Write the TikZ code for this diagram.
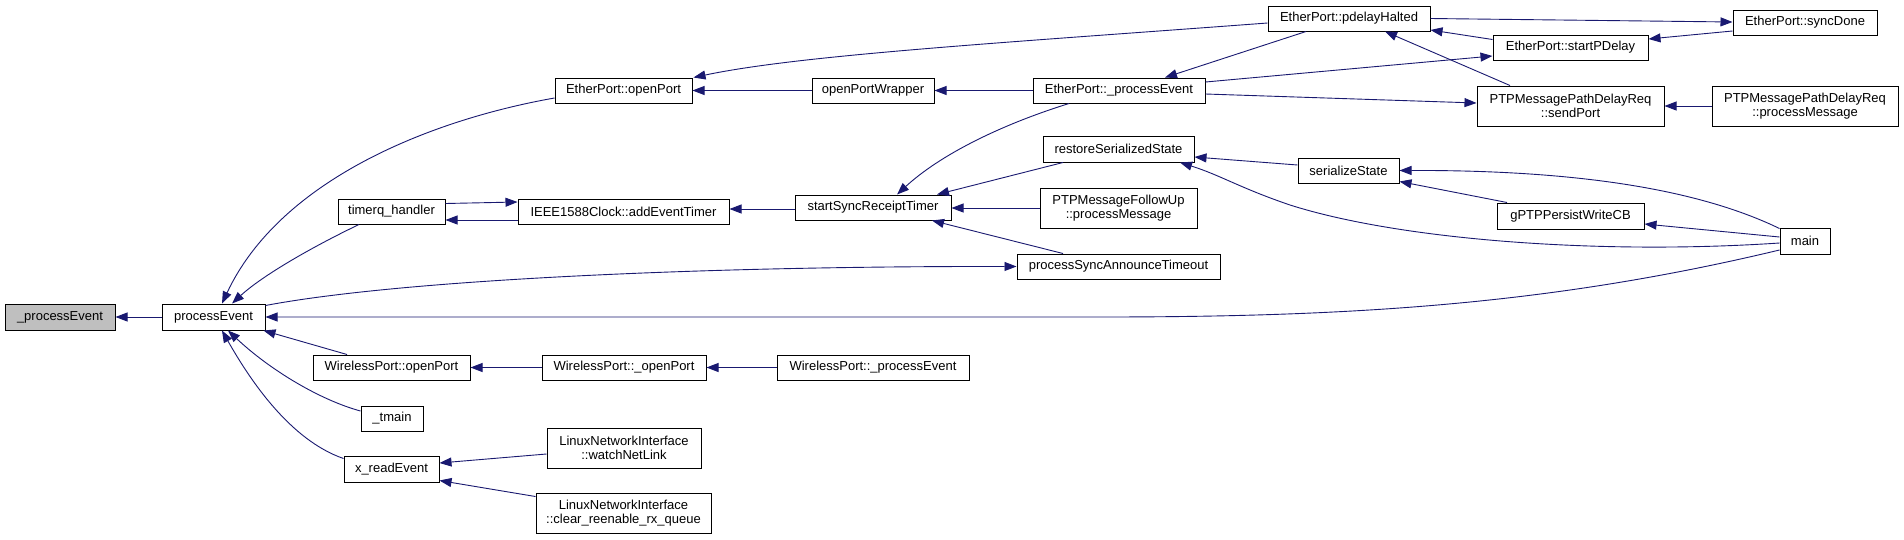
\documentclass[tikz,border=0pt]{standalone}
\usepackage{fontspec}
\setmainfont{Liberation Sans}
\usetikzlibrary{arrows.meta}
\definecolor{edgec}{HTML}{191970}
\definecolor{hl}{HTML}{BFBFBF}
\begin{document}
\begin{tikzpicture}[x=1pt,y=-1pt,
  fn/.style={draw=black,line width=1pt,fill=white,inner sep=0pt,align=center,
    font=\fontsize{13}{14.5}\selectfont},
  call/.style={draw=edgec,line width=0.9pt,-{Triangle[length=12pt,width=9pt]}}]
\useasboundingbox[fill=white] (0,0) rectangle (1904,539);
% nodes
\node[fn,fill=hl,minimum width=110pt,minimum height=26pt] (pe0) at (60,317) {\_processEvent};
\node[fn,minimum width=103pt,minimum height=26pt] (pe) at (213.5,317) {processEvent};
\node[fn,minimum width=137pt,minimum height=25pt] (eopen) at (623.5,90.5) {EtherPort::openPort};
\node[fn,minimum width=122pt,minimum height=25pt] (opw) at (873,90.5) {openPortWrapper};
\node[fn,minimum width=107pt,minimum height=25pt] (timerq) at (391.5,211.5) {timerq\_handler};
\node[fn,minimum width=211pt,minimum height=25pt] (addev) at (623.5,211.5) {IEEE1588Clock::addEventTimer};
\node[fn,minimum width=156pt,minimum height=25pt] (ssrt) at (873,207.5) {startSyncReceiptTimer};
\node[fn,minimum width=172pt,minimum height=25pt] (epe) at (1119,90.5) {EtherPort::\_processEvent};
\node[fn,minimum width=151pt,minimum height=26pt] (rss) at (1118.5,149) {restoreSerializedState};
\node[fn,minimum width=157pt,minimum height=40pt] (fup) at (1118.5,208) {PTPMessageFollowUp\\::processMessage};
\node[fn,minimum width=203pt,minimum height=25pt] (psat) at (1118.5,266.5) {processSyncAnnounceTimeout};
\node[fn,minimum width=162pt,minimum height=25pt] (pdh) at (1349,18.5) {EtherPort::pdelayHalted};
\node[fn,minimum width=155pt,minimum height=25pt] (spd) at (1570.5,47.5) {EtherPort::startPDelay};
\node[fn,minimum width=187pt,minimum height=40pt] (sendp) at (1570.5,106) {PTPMessagePathDelayReq\\::sendPort};
\node[fn,minimum width=144pt,minimum height=25pt] (sd) at (1805,22.5) {EtherPort::syncDone};
\node[fn,minimum width=186pt,minimum height=40pt] (pmsg) at (1805,106) {PTPMessagePathDelayReq\\::processMessage};
\node[fn,minimum width=101pt,minimum height=25pt] (ss) at (1348.5,170.5) {serializeState};
\node[fn,minimum width=147pt,minimum height=26pt] (gpw) at (1570.5,216) {gPTPPersistWriteCB};
\node[fn,minimum width=50pt,minimum height=26pt] (main) at (1805,241) {main};
\node[fn,minimum width=157pt,minimum height=25pt] (wop) at (391.5,367.5) {WirelessPort::openPort};
\node[fn,minimum width=62pt,minimum height=25pt] (tmain) at (392,418.5) {\_tmain};
\node[fn,minimum width=95pt,minimum height=26pt] (xre) at (391.5,469) {x\_readEvent};
\node[fn,minimum width=164pt,minimum height=25pt] (wop2) at (624,367.5) {WirelessPort::\_openPort};
\node[fn,minimum width=192pt,minimum height=25pt] (wpe) at (873,367.5) {WirelessPort::\_processEvent};
\node[fn,minimum width=154pt,minimum height=40pt] (wnl) at (624,448) {LinuxNetworkInterface\\::watchNetLink};
\node[fn,minimum width=175pt,minimum height=40pt] (crq) at (623.5,513) {LinuxNetworkInterface\\::clear\_reenable\_rx\_queue};
% edges
\draw[call] (pe.west) -- (pe0.east);
\draw[call] ([yshift=-7.5pt]eopen.west) .. controls (430,120) and (280,180) .. ([xshift=8.5pt]pe.north);
\draw[call] ([xshift=-32.5pt]timerq.south) .. controls (310,248) and (262,276) .. ([xshift=18.5pt]pe.north);
\draw[call] ([yshift=-2pt]pe.north east) .. controls (400,280) and (700,266) .. (psat.west);
\draw[call] ([yshift=-9pt]main.west) .. controls (1550,305) and (1350,317) .. (1100,317) -- (pe.east);
\draw[call] ([xshift=-44.5pt]wop.north) -- ([xshift=-2pt]pe.south east);
\draw[call] ([yshift=7.5pt]tmain.west) .. controls (320,400) and (270,370) .. ([xshift=14.5pt]pe.south);
\draw[call] ([yshift=-3pt]xre.north west) .. controls (290,440) and (250,380) .. ([xshift=8.5pt]pe.south);
\draw[call] (opw.west) -- (eopen.east);
\draw[call] ([yshift=-4.5pt]pdh.west) .. controls (1000,43) and (800,55) .. ([xshift=1pt]eopen.north east);
\draw[call] ([yshift=8pt]timerq.east) -- ([yshift=9.5pt]addev.west);
\draw[call] ([yshift=-8.5pt]addev.west) -- ([yshift=-8.5pt]timerq.east);
\draw[call] ([yshift=-1.5pt]ssrt.west) -- ([yshift=2.5pt]addev.east);
\draw[call] (epe.west) -- (opw.east);
\draw[call] ([xshift=-50pt]epe.south) .. controls (1000,125) and (940,155) .. ([xshift=24pt]ssrt.north);
\draw[call] ([xshift=-55.5pt]rss.south) -- ([xshift=64pt]ssrt.north);
\draw[call] (fup.west) -- ([yshift=-0.5pt]ssrt.east);
\draw[call] ([xshift=-55.5pt]psat.north) -- ([xshift=59pt]ssrt.south);
\draw[call] ([xshift=-43pt]pdh.south) -- ([xshift=46pt]epe.north);
\draw[call] ([yshift=8.5pt]epe.east) -- ([yshift=-8.5pt]spd.west);
\draw[call] ([yshift=-3.5pt]epe.east) -- ([yshift=3pt]sendp.west);
\draw[call] (pdh.east) -- ([yshift=0.5pt]sd.west);
\draw[call] ([yshift=8pt]spd.west) -- ([yshift=-11.5pt]pdh.east);
\draw[call] ([yshift=-8.5pt]sd.west) -- ([yshift=8.5pt]spd.east);
\draw[call] ([xshift=-60.5pt]sendp.north) -- ([xshift=36pt]pdh.south);
\draw[call] (pmsg.west) -- (sendp.east);
\draw[call] ([yshift=5.5pt]ss.west) -- ([yshift=-8pt]rss.east);
\draw[call] ([yshift=-2pt]main.west) .. controls (1600,255) and (1400,240) .. (1290,205) .. controls (1240,188) and (1220,175) .. ([xshift=61.5pt]rss.south);
\draw[call] ([yshift=-1pt]main.north west) .. controls (1700,190) and (1580,170) .. (ss.east);
\draw[call] ([xshift=-63.5pt]gpw.north) -- ([yshift=2pt]ss.south east);
\draw[call] ([yshift=4pt]main.west) -- ([yshift=-8pt]gpw.east);
\draw[call] (wop2.west) -- (wop.east);
\draw[call] (wpe.west) -- (wop2.east);
\draw[call] ([yshift=-6pt]wnl.west) -- ([yshift=6pt]xre.east);
\draw[call] ([yshift=-4pt]crq.north west) -- ([yshift=2pt]xre.south east);
\end{tikzpicture}
\end{document}
